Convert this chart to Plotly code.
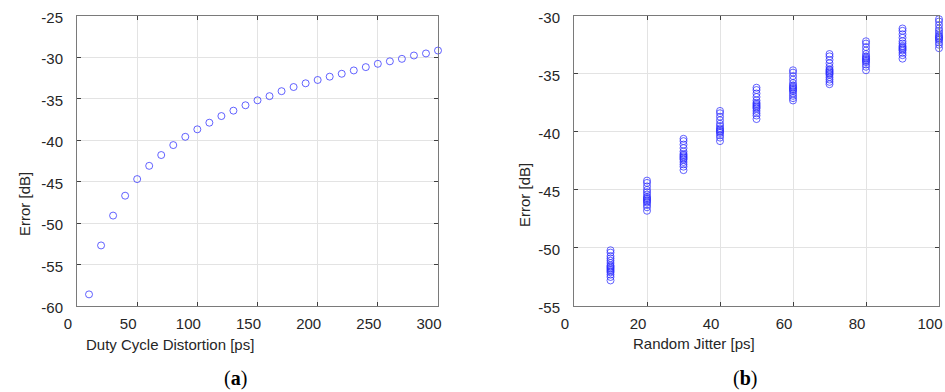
import plotly.graph_objects as go

# ---- Data: panel (a) ----
dcd_ps = [10, 20, 30, 40, 50, 60, 70, 80, 90, 100, 110, 120, 130, 140, 150,
          160, 170, 180, 190, 200, 210, 220, 230, 240, 250, 260, 270, 280, 290, 300]
dcd_err = [-58.6, -52.7, -49.1, -46.7, -44.7, -43.1, -41.8, -40.6, -39.6, -38.7,
           -37.9, -37.1, -36.45, -35.8, -35.2, -34.7, -34.1, -33.6, -33.15, -32.75,
           -32.35, -32.0, -31.6, -31.2, -30.8, -30.5, -30.2, -29.8, -29.55, -29.2]

# ---- Data: panel (b) ----
rj_levels = [10, 20, 30, 40, 50, 60, 70, 80, 90, 100]
rj_err = {
    10: [-50.2, -50.4, -50.7, -50.9, -51.1, -51.3, -51.5, -51.6, -51.7, -51.8, -51.9, -52.0, -52.1, -52.3, -52.5, -52.8],
    20: [-44.2, -44.4, -44.7, -45.0, -45.2, -45.4, -45.6, -45.7, -45.8, -45.9, -46.0, -46.1, -46.3, -46.5, -46.8],
    30: [-40.6, -40.8, -41.1, -41.4, -41.7, -41.9, -42.0, -42.1, -42.2, -42.3, -42.4, -42.6, -42.8, -43.0, -43.3],
    40: [-38.2, -38.4, -38.7, -39.0, -39.3, -39.5, -39.7, -39.8, -39.9, -40.0, -40.1, -40.3, -40.5, -40.8],
    50: [-36.2, -36.4, -36.7, -37.0, -37.3, -37.5, -37.6, -37.7, -37.8, -37.9, -38.0, -38.2, -38.4, -38.6, -38.9],
    60: [-34.7, -34.9, -35.2, -35.5, -35.8, -36.0, -36.1, -36.2, -36.3, -36.4, -36.5, -36.7, -36.9, -37.1, -37.3],
    70: [-33.3, -33.5, -33.8, -34.1, -34.4, -34.6, -34.7, -34.8, -34.9, -35.0, -35.1, -35.3, -35.5, -35.7, -35.9],
    80: [-32.2, -32.4, -32.7, -33.0, -33.3, -33.5, -33.6, -33.7, -33.8, -33.9, -34.0, -34.2, -34.4, -34.7],
    90: [-31.1, -31.3, -31.6, -31.9, -32.2, -32.4, -32.6, -32.7, -32.8, -32.9, -33.0, -33.2, -33.4, -33.7],
    100: [-30.3, -30.5, -30.8, -31.1, -31.3, -31.5, -31.7, -31.8, -31.9, -32.0, -32.1, -32.3, -32.5, -32.8],
}

xticks_a = [0, 50, 100, 150, 200, 250, 300]
yticks_a = [-60, -55, -50, -45, -40, -35, -30, -25]
xticks_b = [0, 20, 40, 60, 80, 100]
yticks_b = [-55, -50, -45, -40, -35, -30]

rj_x = [lvl for lvl in rj_levels for _ in rj_err[lvl]]
rj_y = [v for lvl in rj_levels for v in rj_err[lvl]]

W, H = 945, 392
FONT = "Liberation Sans, Arial, sans-serif"
TXT = "#262626"
MARK = dict(symbol="circle-open", size=7, color="rgba(40,40,255,0.72)",
            line=dict(width=1, color="rgba(40,40,255,0.72)"))

fig = go.Figure()
fig.add_trace(go.Scatter(x=dcd_ps, y=dcd_err, mode="markers", marker=MARK,
                         xaxis="x", yaxis="y", cliponaxis=False, showlegend=False))
fig.add_trace(go.Scatter(x=rj_x, y=rj_y, mode="markers", marker=MARK,
                         xaxis="x2", yaxis="y2", cliponaxis=False, showlegend=False))

ydom = [1 - 306 / H, 1 - 15.7 / H]

def ax(domain, rng, ticks, anchor, isx):
    d = dict(domain=domain, range=rng, tickvals=ticks, ticktext=[str(t) for t in ticks],
             anchor=anchor, automargin=False, showline=True, linecolor="#7a7a7a", linewidth=1,
             mirror="ticks", ticks="inside", ticklen=4, tickcolor="#404040",
             showgrid=True, gridcolor="#e3e3e3", gridwidth=1, zeroline=False,
             tickfont=dict(family=FONT, size=15, color=TXT))
    if isx:
        d["ticklabelshift"] = -9
        d["ticklabelstandoff"] = 4
    else:
        d["ticklabelstandoff"] = 10
        d["ticklabelshift"] = 2
    return d

fig.update_layout(
    width=W, height=H, margin=dict(l=0, r=0, t=0, b=0, autoexpand=False),
    paper_bgcolor="white", plot_bgcolor="white",
    xaxis=ax([77 / W, 438 / W], [0, 300], xticks_a, "y", True),
    yaxis=ax(ydom, [-60, -25], yticks_a, "x", False),
    xaxis2=ax([574 / W, 939 / W], [0, 100], xticks_b, "y2", True),
    yaxis2=ax(ydom, [-55, -30], yticks_b, "x2", False),
)

def ann(text, x, y, angle=0, size=15, family=FONT, color=TXT):
    fig.add_annotation(text=text, x=x / W, y=1 - y / H, xref="paper", yref="paper",
                       showarrow=False, textangle=angle, xanchor="center", yanchor="middle",
                       font=dict(family=family, size=size, color=color))

ann("Duty Cycle Distortion [ps]", 170, 344)
ann("Random Jitter [ps]", 694, 343)
ann("Error [dB]", 24, 204, angle=-90)
ann("Error [dB]", 524, 195, angle=-90)
ann("(<b>a</b>)", 235, 378, size=20, family="Liberation Serif, Times New Roman, serif", color="#000")
ann("(<b>b</b>)", 745, 378, size=20, family="Liberation Serif, Times New Roman, serif", color="#000")

fig.write_html("out.html", config={"displayModeBar": False},
               post_script="document.body.style.margin='0';document.body.style.padding='0';")
